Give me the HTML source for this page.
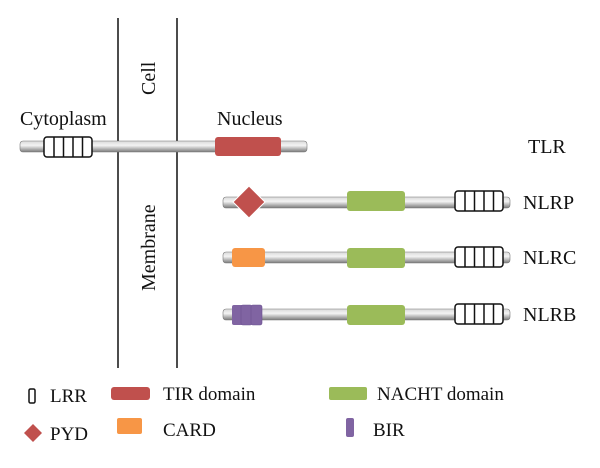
<!DOCTYPE html>
<html><head><style>body{margin:0;background:#fff}svg{display:block}text{font-family:"Liberation Serif",serif;font-size:20px;fill:#111}.l{font-size:19px}</style></head>
<body>
<svg width="600" height="468" viewBox="0 0 600 468" xmlns="http://www.w3.org/2000/svg">
<defs>
<linearGradient id="g" x1="0" y1="0" x2="0" y2="1"><stop offset="0" stop-color="#d8d8d8"/><stop offset="0.4" stop-color="#f4f4f4"/><stop offset="1" stop-color="#7a7a7a"/></linearGradient>
<g id="lrr"><rect x="0" y="0" width="48" height="20" rx="3" fill="#fff" stroke="#111" stroke-width="1.5"/><path d="M10 0V20M19.5 0V20M29 0V20M38.5 0V20" stroke="#111" stroke-width="1.5"/></g>
</defs>
<line x1="118" y1="18" x2="118" y2="368" stroke="#111" stroke-width="1.5"/>
<line x1="177" y1="18" x2="177" y2="368" stroke="#111" stroke-width="1.5"/>
<text x="20" y="125">Cytoplasm</text>
<text x="217" y="125">Nucleus</text>
<text transform="translate(155,95) rotate(-90)">Cell</text>
<text transform="translate(155,291) rotate(-90)">Membrane</text>
<rect x="20" y="141" width="287" height="11" rx="3" fill="url(#g)" stroke="#777" stroke-width="0.6"/>
<use href="#lrr" x="44" y="137"/>
<rect x="215" y="137" width="66" height="19" rx="3" fill="#c0504d"/>
<text x="528" y="153">TLR</text>
<rect x="223" y="197" width="287" height="11" rx="3" fill="url(#g)" stroke="#777" stroke-width="0.6"/>
<polygon points="249,186 265,202 249,218 233,202" fill="#c0504d" stroke="#fff" stroke-width="1"/>
<rect x="347" y="191" width="58" height="20" rx="3" fill="#9bbb59"/>
<use href="#lrr" x="455" y="191"/>
<text x="523" y="209">NLRP</text>
<rect x="223" y="252" width="287" height="11" rx="3" fill="url(#g)" stroke="#777" stroke-width="0.6"/>
<rect x="232" y="248" width="33" height="19" rx="3" fill="#f79646"/>
<rect x="347" y="248" width="58" height="20" rx="3" fill="#9bbb59"/>
<use href="#lrr" x="455" y="247"/>
<text x="523" y="264">NLRC</text>
<rect x="223" y="309" width="287" height="11" rx="3" fill="url(#g)" stroke="#777" stroke-width="0.6"/>
<rect x="232" y="305" width="11" height="20" rx="2" fill="#8064a2"/>
<rect x="241" y="305" width="11" height="20" rx="2" fill="#8064a2" stroke="#6b5290" stroke-width="0.6"/>
<rect x="251" y="305" width="11" height="20" rx="2" fill="#8064a2" stroke="#6b5290" stroke-width="0.6"/>
<rect x="347" y="305" width="58" height="20" rx="3" fill="#9bbb59"/>
<use href="#lrr" x="455" y="304"/>
<text x="523" y="321">NLRB</text>
<rect x="29" y="389" width="6" height="14" rx="1.5" fill="#fff" stroke="#111" stroke-width="1.5"/>
<text class="l" x="50" y="402">LRR</text>
<rect x="111" y="387" width="39" height="13" rx="3" fill="#c0504d"/>
<text class="l" x="163" y="400">TIR domain</text>
<rect x="329" y="387" width="38" height="13" rx="2" fill="#9bbb59"/>
<text class="l" x="377" y="400">NACHT domain</text>
<polygon points="33,424 42,433 33,442 24,433" fill="#c0504d"/>
<text class="l" x="50" y="440">PYD</text>
<rect x="117" y="418" width="25" height="16" rx="2" fill="#f79646"/>
<text class="l" x="163" y="436">CARD</text>
<rect x="346" y="418" width="8" height="19" rx="2" fill="#8064a2"/>
<text class="l" x="373" y="436">BIR</text>
</svg>
</body></html>
